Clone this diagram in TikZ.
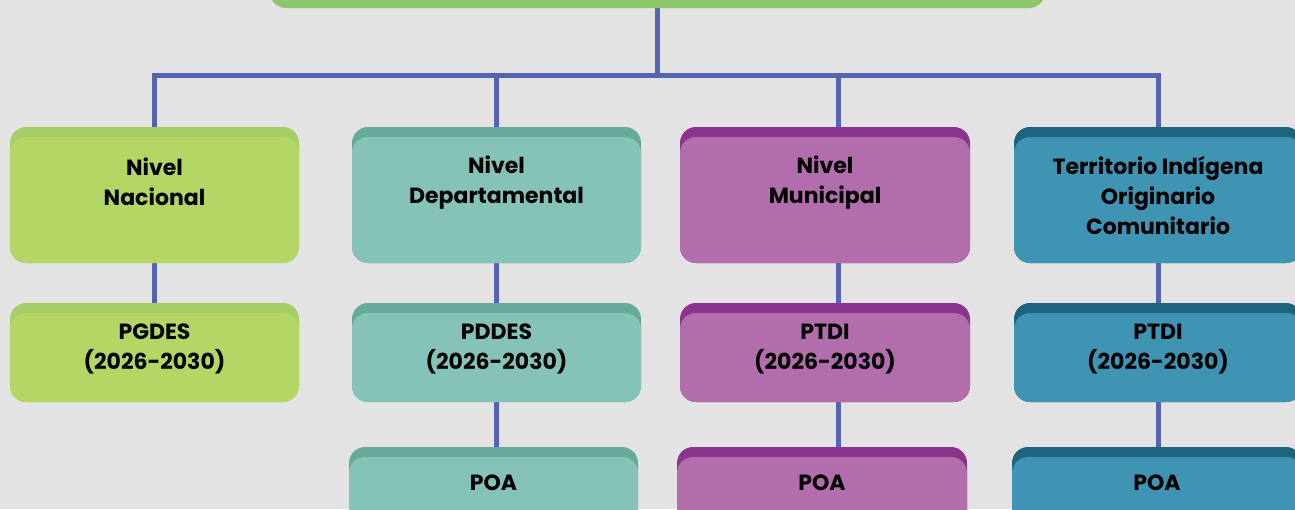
\documentclass[tikz,border=0pt]{standalone}
\usepackage{fontspec}
\setmainfont{Poppins}
\usetikzlibrary{calc}
\pgfdeclarelayer{back}
\pgfdeclarelayer{lines}
\pgfsetlayers{back,lines,main}
\definecolor{bgc}{HTML}{E3E3E3}
\definecolor{linec}{HTML}{5563B0}
\definecolor{topc}{HTML}{8BC66A}
\definecolor{gD}{HTML}{A3CF66}
\definecolor{gL}{HTML}{B3D665}
\definecolor{tD}{HTML}{68AA99}
\definecolor{tL}{HTML}{85C3B9}
\definecolor{pD}{HTML}{8A348C}
\definecolor{pL}{HTML}{B26DAC}
\definecolor{bD}{HTML}{1D6480}
\definecolor{bL}{HTML}{3F94B4}
\tikzset{
  box/.style 2 args={fill=#1, rounded corners=16pt, inner sep=0pt,
    path picture={\fill[#2, rounded corners=16pt]
      ($(path picture bounding box.north west)+(0,10)$) rectangle
      (path picture bounding box.south east);}},
  lvlA/.style={minimum width=289pt, minimum height=136pt},
  lvlB/.style={minimum width=289pt, minimum height=99pt},
  conn/.style={draw=linec, line width=5pt},
  lbl/.style={font=\bfseries\fontsize{22}{30}\selectfont, align=center, inner sep=0pt, text=black, anchor=north}
}
\begin{document}
\begin{tikzpicture}[x=1pt,y=-1pt]
\useasboundingbox (0,0) rectangle (1295,509);
\clip (0,0) rectangle (1295,509);
\begin{pgfonlayer}{back}
\fill[bgc] (0,0) rectangle (1295,509);
\end{pgfonlayer}

% top node
\node[fill=topc, rounded corners=16pt, minimum width=775pt, minimum height=60pt, inner sep=0pt] (top) at (657.5,-22) {};

% level boxes
\node[box={gD}{gL}, lvlA] (a1) at (154.5,195) {};
\node[box={tD}{tL}, lvlA] (b1) at (496.5,195) {};
\node[box={pD}{pL}, lvlA, minimum width=290pt] (c1) at (825,195) {};
\node[box={bD}{bL}, lvlA, minimum width=288pt] (d1) at (1158,195) {};

\node[box={gD}{gL}, lvlB] (a2) at (154.5,352.5) {};
\node[box={tD}{tL}, lvlB] (b2) at (496.5,352.5) {};
\node[box={pD}{pL}, lvlB, minimum width=290pt] (c2) at (825,352.5) {};
\node[box={bD}{bL}, lvlB, minimum width=288pt] (d2) at (1158,352.5) {};

\node[box={tD}{tL}, lvlB] (b3) at (493.5,496.5) {};
\node[box={pD}{pL}, lvlB, minimum width=290pt] (c3) at (822,496.5) {};
\node[box={bD}{bL}, lvlB, minimum width=290pt] (d3) at (1157,496.5) {};

% labels
\node[lbl] (a1t) at ($(a1.north)+(0,31)$) {Nivel\\Nacional};
\node[lbl] (b1t) at ($(b1.north)+(0,29)$) {Nivel\\Departamental};
\node[lbl] (c1t) at ($(c1.north)+(0,29)$) {Nivel\\Municipal};
\node[lbl] (d1t) at ($(d1.north)+(0,29)$) {Territorio Indígena\\Originario\\Comunitario};

\node[lbl] (a2t) at ($(a2.north)+(0,21)$) {PGDES\\(2026-2030)};
\node[lbl] (b2t) at ($(b2.north)+(0,21)$) {PDDES\\(2026-2030)};
\node[lbl] (c2t) at ($(c2.north)+(0,21)$) {PTDI\\(2026-2030)};
\node[lbl] (d2t) at ($(d2.north)+(0,21)$) {PTDI\\(2026-2030)};

\node[lbl] (b3t) at ($(b3.north)+(0,28)$) {POA};
\node[lbl] (c3t) at ($(c3.north)+(0,28)$) {POA};
\node[lbl] (d3t) at ($(d3.north)+(0,28)$) {POA};

% connectors
\coordinate (cx) at (838,0);
\begin{pgfonlayer}{lines}
\draw[conn] (top.south) -- ++(0,67.5) coordinate (bus) -| (a1.north);
\draw[conn] (bus) -| (b1.north);
\draw[conn] (bus) -| (cx |- c1.north);
\draw[conn] (bus) -| (d1.north);
\draw[conn] (a1.south) -- (a2.north);
\draw[conn] (b1.south) -- (b2.north);
\draw[conn] (b2.south) -- (b2.south |- b3.north);
\draw[conn] (cx |- c1.south) -- (cx |- c2.north);
\draw[conn] (cx |- c2.south) -- (cx |- c3.north);
\draw[conn] (d1.south) -- (d2.north);
\draw[conn] (d2.south) -- (d2.south |- d3.north);
\end{pgfonlayer}
\end{tikzpicture}
\end{document}
